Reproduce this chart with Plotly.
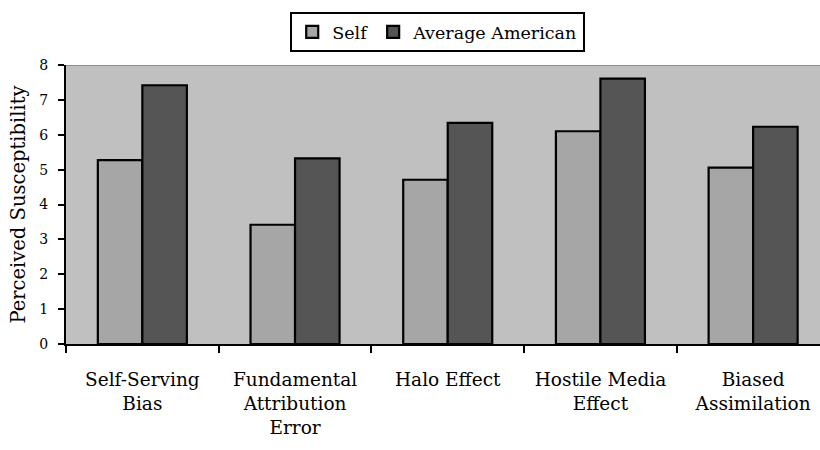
import plotly.graph_objects as go

# Perceived susceptibility to five biases: oneself vs. the average American
categories = [
    "Self-Serving<br>Bias",
    "Fundamental<br>Attribution<br>Error",
    "Halo Effect",
    "Hostile Media<br>Effect",
    "Biased<br>Assimilation",
]
self_scores = [5.27, 3.42, 4.71, 6.10, 5.06]
average_american_scores = [7.42, 5.32, 6.34, 7.61, 6.23]
y_ticks = [0, 1, 2, 3, 4, 5, 6, 7, 8]

FONT = "DejaVu Serif"
Y_MAX = 8

fig = go.Figure()
fig.add_trace(go.Bar(
    name="Self", x=categories, y=self_scores,
    marker=dict(color="#a6a6a6", line=dict(color="#000000", width=2.2)),
))
fig.add_trace(go.Bar(
    name="Average American", x=categories, y=average_american_scores,
    marker=dict(color="#555555", line=dict(color="#000000", width=2.2)),
))

# thin grey frame line along the top of the plotting area
fig.add_shape(type="line", xref="paper", yref="y", x0=0, x1=1, y0=Y_MAX, y1=Y_MAX,
              line=dict(color="#8f8f8f", width=2), layer="above")

fig.update_layout(
    width=820, height=450,
    margin=dict(l=66, r=0, t=65, b=106),
    paper_bgcolor="white",
    plot_bgcolor="#c0c0c0",
    barmode="group",
    bargap=0.417,
    bargroupgap=0,
    font=dict(family=FONT, color="#000000", size=18),
    showlegend=True,
    legend=dict(
        orientation="h",
        x=0.493, xanchor="center",
        y=1.19, yanchor="top",
        bgcolor="white", bordercolor="#000000", borderwidth=2,
        font=dict(family=FONT, size=17.5),
        itemwidth=30,
    ),
    xaxis=dict(
        type="category",
        range=[-0.5, 4.438],
        tickson="boundaries",
        ticks="outside", ticklen=7, tickwidth=1.5, tickcolor="#000000",
        showline=True, linecolor="#000000", linewidth=1.5,
        showgrid=False,
        tickfont=dict(family=FONT, size=18.5),
        ticklabelstandoff=18,
    ),
    yaxis=dict(
        range=[0, Y_MAX],
        tickvals=y_ticks,
        ticks="outside", ticklen=6, tickwidth=2, tickcolor="#000000",
        showline=True, linecolor="#000000", linewidth=2,
        showgrid=False, zeroline=False,
        tickfont=dict(family=FONT, size=14),
        ticklabelstandoff=7,
        title=dict(text="Perceived Susceptibility", font=dict(family=FONT, size=19.5), standoff=8),
    ),
)

fig.write_html("out.html")
